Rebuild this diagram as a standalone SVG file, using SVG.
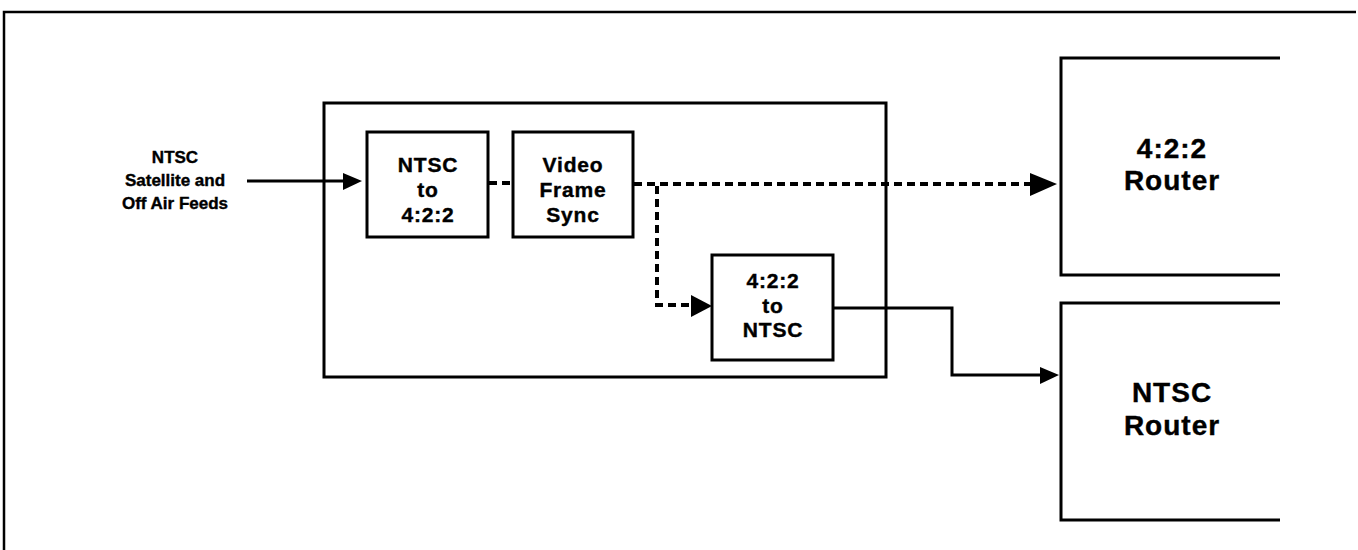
<svg xmlns="http://www.w3.org/2000/svg" width="1358" height="550" viewBox="0 0 1358 550">
<style>
.box{fill:none;stroke:#000;stroke-width:3}
.frame{fill:none;stroke:#000;stroke-width:2.5}
.t{font-family:"Liberation Sans",Arial,sans-serif;font-weight:bold;fill:#000;stroke:#000;stroke-width:0.4;text-anchor:middle}
.s{font-size:21px;letter-spacing:0.8px}
.l{font-size:17px}
.r{font-size:28px;letter-spacing:1px}
.solid{fill:none;stroke:#000;stroke-width:3}
.dash{fill:none;stroke:#000;stroke-width:4;stroke-dasharray:8 5}
.ah{fill:#000}
</style>
<rect width="1358" height="550" fill="#fff"/>
<g id="frame">
<path class="frame" d="M4,550 V12 H1356"/>
</g>
<g id="input-label">
<text class="t l" x="175" y="163">NTSC</text>
<text class="t l" x="175" y="186">Satellite and</text>
<text class="t l" x="175" y="209">Off Air Feeds</text>
</g>
<g id="converter">
<rect class="box" x="324" y="103" width="562" height="274"/>
</g>
<g id="ntsc-to-422">
<rect class="box" x="367" y="132" width="121" height="105"/>
<text class="t s" x="428" y="172">NTSC</text>
<text class="t s" x="428" y="197">to</text>
<text class="t s" x="428" y="222">4:2:2</text>
</g>
<g id="frame-sync">
<rect class="box" x="513" y="132" width="120" height="105"/>
<text class="t s" x="573" y="172">Video</text>
<text class="t s" x="573" y="197">Frame</text>
<text class="t s" x="573" y="222">Sync</text>
</g>
<g id="422-to-ntsc">
<rect class="box" x="712" y="255" width="121" height="105"/>
<text class="t s" x="773" y="288">4:2:2</text>
<text class="t s" x="773" y="313">to</text>
<text class="t s" x="773" y="337">NTSC</text>
</g>
<g id="router-422">
<path class="box" d="M1280,58 H1061 V275 H1280"/>
<text class="t r" x="1172" y="158">4:2:2</text>
<text class="t r" x="1172" y="190">Router</text>
</g>
<g id="router-ntsc">
<path class="box" d="M1280,303 H1061 V520 H1280"/>
<text class="t r" x="1172" y="402">NTSC</text>
<text class="t r" x="1172" y="435">Router</text>
</g>
<g id="connectors">
<path class="solid" d="M247,181 H345"/>
<polygon class="ah" points="343,173 362,181 343,190"/>
<path class="dash" d="M489,183 H512" stroke-dasharray="5 6 8"/>
<path class="dash" d="M634,184 H1032"/>
<polygon class="ah" points="1030,173 1057,184 1030,196"/>
<path class="dash" d="M657,186 V305 H692"/>
<polygon class="ah" points="691,295 712,306 691,317"/>
<path class="solid" d="M834,308 H952 V375 H1042"/>
<polygon class="ah" points="1040,367 1059,375 1040,384"/>
</g>
</svg>
